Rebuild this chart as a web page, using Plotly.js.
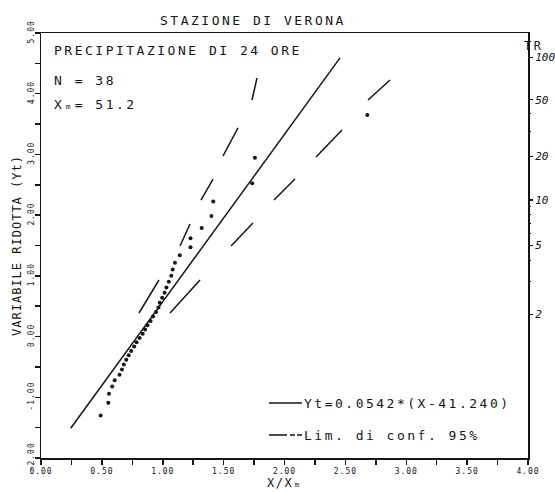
<!DOCTYPE html>
<html><head><meta charset="utf-8">
<script src="https://cdn.plot.ly/plotly-3.0.1.min.js"></script>
<style>
html,body{margin:0;padding:0;background:#fff;}
#chart{width:555px;height:492px;}
.gtitle, .annotation-text { letter-spacing:2.5px; }
.ytitle { letter-spacing:1px; }
.xtitle { letter-spacing:1.5px; }
.xtick text, .ytick text { letter-spacing:1px; }
</style>
</head><body><div id="chart"></div>
<script>
const obsRatio = [0.49,0.553,0.558,0.585,0.605,0.645,0.665,0.68,0.70,0.72,
  0.74,0.765,0.785,0.81,0.835,0.855,0.875,0.90,0.92,0.945,
  0.965,0.975,0.995,1.015,1.03,1.05,1.07,1.082,1.10,1.14,
  1.228,1.228,1.32,1.40,1.415,1.735,1.757,2.68];
const obsYt = [-1.298,-1.089,-0.942,-0.823,-0.720,-0.627,-0.541,-0.460,-0.383,-0.308,
  -0.236,-0.164,-0.094,-0.024,0.046,0.115,0.186,0.257,0.330,0.404,
  0.480,0.558,0.639,0.723,0.810,0.903,1.000,1.105,1.217,1.338,
  1.471,1.621,1.789,1.986,2.224,2.525,2.945,3.651];

// Fitted line end points
const fitRatio = [0.244, 2.456];
const fitYt = [-1.51, 4.59];

// 95% confidence limits (dash segments as drawn, gaps = null)
const upperRatio = [0.805,0.969,null,1.142,1.224,null,1.314,1.413,null,1.495,1.618,null,1.733,1.774];
const upperYt    = [0.388,0.932,null,1.492,1.854,null,2.249,2.595,null,2.974,3.436,null,3.897,4.259];
const lowerRatio = [1.060,1.306,null,1.561,1.741,null,1.914,2.086,null,2.259,2.472,null,2.686,2.867];
const lowerYt    = [0.388,0.932,null,1.492,1.871,null,2.249,2.595,null,2.958,3.403,null,3.897,4.226];

// Axis ticks
const xTickVals = [0,0.5,1,1.5,2,2.5,3,3.5,4];
const xTickText = ["0.00","0.50","1.00","1.50","2.00","2.50","3.00","3.50","4.00"];
const xMinorVals = [0.25,0.75,1.25,1.75,2.25,2.75,3.25,3.75];
const yTickVals = [-2,-1,0,1,2,3,4,5];
const yTickText = ["-2.00","-1.00","0.00","1.00","2.00","3.00","4.00","5.00"];
const yMinorVals = [-1.5,-0.5,0.5,1.5,2.5,3.5,4.5];
// Return period (TR) axis
const trLabels = ["2","5","10","20","50","100"];
const trYt = [0.367,1.500,2.250,2.970,3.902,4.600];
const trMinorYt = [0.903,1.246,1.702,1.870,2.013,2.139,3.384,3.676];

const INK = '#151515';
const MONO = 'DejaVu Sans Mono';

const traces = [
  {x: fitRatio, y: fitYt, yaxis: 'y2', mode:'lines', line:{color:INK, width:1.5}, showlegend:false, hoverinfo:'skip'},
  {x: upperRatio, y: upperYt, mode:'lines', line:{color:INK, width:1.5}, connectgaps:false, showlegend:false},
  {x: lowerRatio, y: lowerYt, mode:'lines', line:{color:INK, width:1.5}, connectgaps:false, showlegend:false},
  {x: obsRatio, y: obsYt, mode:'markers', marker:{color:INK, size:4}, showlegend:false}
];

const W = 487, H = 425, L = 41, T = 33;
function px(p){ return (p - L)/W; }
function py(p){ return (T + H - p)/H; }

const textFont = {family: MONO, size: 13, color: INK};
const minorTick = {tickmode: 'array', ticks: 'outside', ticklen: 5, tickwidth: 1.5, tickcolor: INK, showgrid: false};

const layout = {
  width: 555, height: 492,
  margin: {l: 41, r: 27, t: 33, b: 34},
  paper_bgcolor: '#fff', plot_bgcolor: '#fff',
  showlegend: false,
  title: {text: 'STAZIONE DI VERONA', x: 160/555, xanchor: 'left', y: 1 - 20/492, yanchor: 'middle',
          font: {family: MONO, size: 13, color: INK}},
  xaxis: {range: [0, 4], tickmode: 'array', tickvals: xTickVals, ticktext: xTickText,
    ticks: 'outside', ticklen: 5, tickwidth: 1.5, tickcolor: INK,
    minor: Object.assign({tickvals: xMinorVals}, minorTick),
    showline: true, linewidth: 1.5, linecolor: INK, mirror: true,
    showgrid: false, zeroline: false,
    tickfont: {family: MONO, size: 8, color: INK},
    title: {text: 'X/Xₘ', font: {family: MONO, size: 12, color: INK}, standoff: 2}},
  yaxis: {range: [-2, 5], tickmode: 'array', tickvals: yTickVals, ticktext: yTickText, tickangle: -90,
    ticks: 'outside', ticklen: 5, tickwidth: 1.5, tickcolor: INK, ticklabelstandoff: -3,
    minor: Object.assign({tickvals: yMinorVals}, minorTick),
    showline: true, linewidth: 1.5, linecolor: INK, mirror: true,
    showgrid: false, zeroline: false,
    tickfont: {family: MONO, size: 8, color: INK},
    title: {text: 'VARIABILE RIDOTTA (Yt)', font: {family: MONO, size: 12, color: INK}, standoff: 3}},
  yaxis2: {range: [-2, 5], overlaying: 'y', side: 'right', anchor: 'x',
    tickmode: 'array', tickvals: trYt, ticktext: trLabels,
    ticks: 'outside', ticklen: 4, tickwidth: 1.2, tickcolor: INK,
    minor: {tickmode: 'array', tickvals: trMinorYt, ticks: 'outside', ticklen: 2, tickwidth: 1, tickcolor: INK, showgrid: false},
    showline: false, showgrid: false, zeroline: false,
    tickfont: {family: MONO, size: 11, color: INK, style: 'italic'}},
  shapes: [
    {type: 'line', xref: 'paper', yref: 'paper', x0: px(269), x1: px(302), y0: py(403), y1: py(403),
     line: {color: INK, width: 1.5}},
    {type: 'line', xref: 'paper', yref: 'paper', x0: px(269), x1: px(302), y0: py(435), y1: py(435),
     line: {color: INK, width: 1.5, dash: '18px,3px,5px,2px,5px,200px'}}
  ],
  annotations: [
    {text: 'PRECIPITAZIONE DI 24 ORE', xref: 'paper', yref: 'paper', x: px(52), y: py(50), xanchor: 'left', yanchor: 'middle', showarrow: false, font: textFont},
    {text: 'N = 38', xref: 'paper', yref: 'paper', x: px(52), y: py(80), xanchor: 'left', yanchor: 'middle', showarrow: false, font: textFont},
    {text: 'Xₘ= 51.2', xref: 'paper', yref: 'paper', x: px(52), y: py(104), xanchor: 'left', yanchor: 'middle', showarrow: false, font: textFont},
    {text: 'Yt=0.0542*(X-41.240)', xref: 'paper', yref: 'paper', x: px(302), y: py(403), xanchor: 'left', yanchor: 'middle', showarrow: false, font: textFont},
    {text: 'Lim. di conf. 95%', xref: 'paper', yref: 'paper', x: px(302), y: py(435), xanchor: 'left', yanchor: 'middle', showarrow: false, font: textFont},
    {text: 'TR', xref: 'paper', yref: 'paper', x: px(522), y: py(46), xanchor: 'left', yanchor: 'middle', showarrow: false,
     font: {family: MONO, size: 12, color: INK}}
  ]
};

Plotly.newPlot('chart', traces, layout, {displayModeBar: false, staticPlot: true});
</script>
</body></html>
